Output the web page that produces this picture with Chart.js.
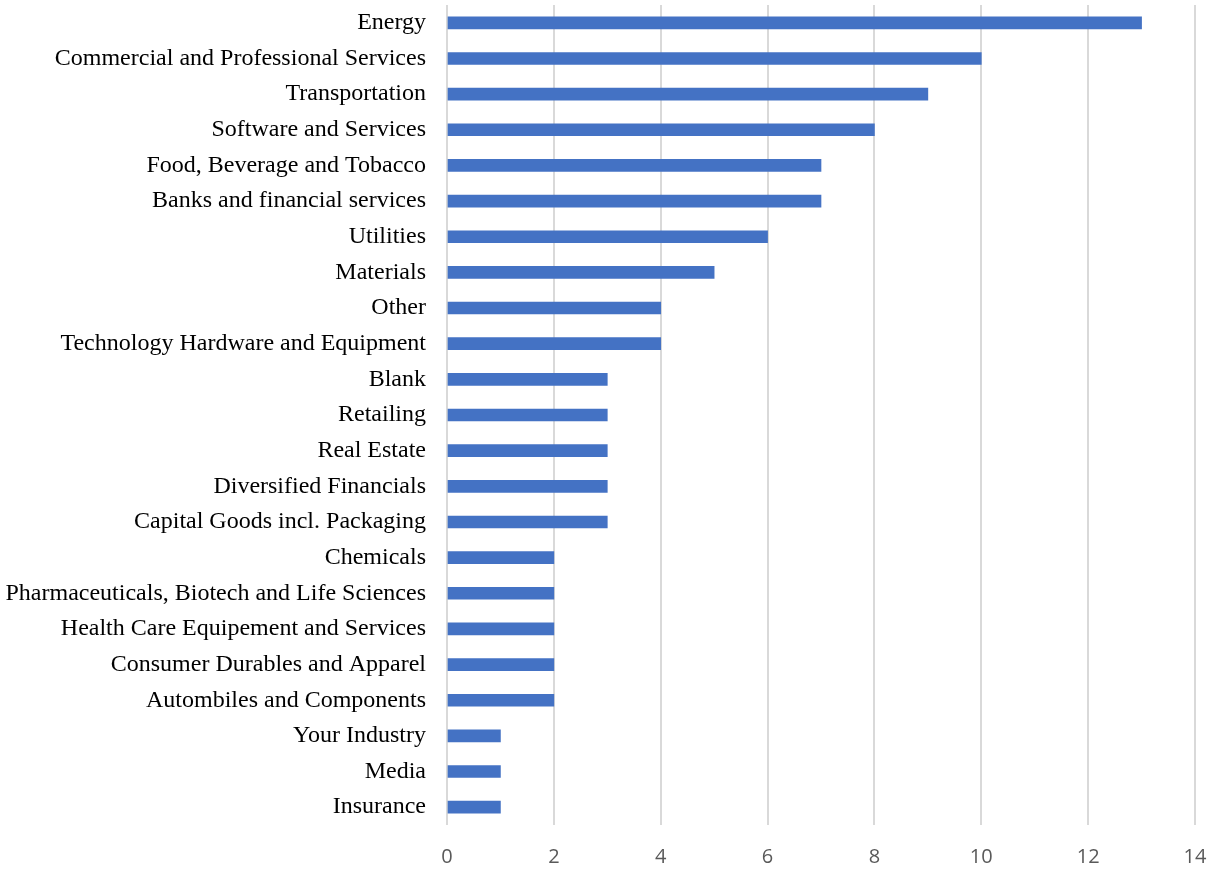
<!DOCTYPE html>
<html>
<head>
<meta charset="utf-8">
<script src="https://cdn.jsdelivr.net/npm/chart.js@4"></script>
<style>
  html, body { margin: 0; padding: 0; background: #ffffff; }
  #wrap { width: 1214px; height: 869px; }
</style>
</head>
<body>
<div id="wrap"><canvas id="industryChart" width="1214" height="869"></canvas></div>
<script>
// Industry counts, top to bottom as shown
const industries = [
    'Energy',
    'Commercial and Professional Services',
    'Transportation',
    'Software and Services',
    'Food, Beverage and Tobacco',
    'Banks and financial services',
    'Utilities',
    'Materials',
    'Other',
    'Technology Hardware and Equipment',
    'Blank',
    'Retailing',
    'Real Estate',
    'Diversified Financials',
    'Capital Goods incl. Packaging',
    'Chemicals',
    'Pharmaceuticals, Biotech and Life Sciences',
    'Health Care Equipement and Services',
    'Consumer Durables and Apparel',
    'Autombiles and Components',
    'Your Industry',
    'Media',
    'Insurance'
];
const counts = [13, 10, 9, 8, 7, 7, 6, 5, 4, 4, 3, 3, 3, 3, 3, 2, 2, 2, 2, 2, 1, 1, 1];
const xTicks = [0, 2, 4, 6, 8, 10, 12, 14];

const ctx = document.getElementById('industryChart').getContext('2d');
new Chart(ctx, {
    type: 'bar',
    data: {
        labels: industries,
        datasets: [{
            data: counts,
            backgroundColor: '#4472C4',
            borderWidth: 0,
            barThickness: 12
        }]
    },
    options: {
        indexAxis: 'y',
        responsive: false,
        animation: false,
        layout: { padding: { top: 5, right: 19, bottom: 0, left: 0 } },
        plugins: { legend: { display: false }, tooltip: { enabled: false } },
        scales: {
            x: {
                min: 0,
                max: 14,
                afterBuildTicks: axis => { axis.ticks = xTicks.map(v => ({ value: v })); },
                afterFit: axis => {
                    axis.height = 44;
                    axis.paddingLeft = 0;
                    axis.paddingRight = 0;
                },
                grid: { color: '#d9d9d9', lineWidth: 2, drawTicks: false },
                border: { display: false },
                ticks: {
                    padding: 20,
                    color: '#595959',
                    font: { family: 'Open Sans', size: 20 }
                }
            },
            y: {
                afterFit: axis => {
                    axis.width = 447;
                    axis.paddingTop = 0;
                    axis.paddingBottom = 0;
                },
                grid: { display: false, drawTicks: false },
                border: { display: false },
                ticks: {
                    padding: 21,
                    autoSkip: false,
                    color: '#000000',
                    font: { family: 'Liberation Serif', size: 24 }
                }
            }
        }
    }
});
</script>
</body>
</html>
